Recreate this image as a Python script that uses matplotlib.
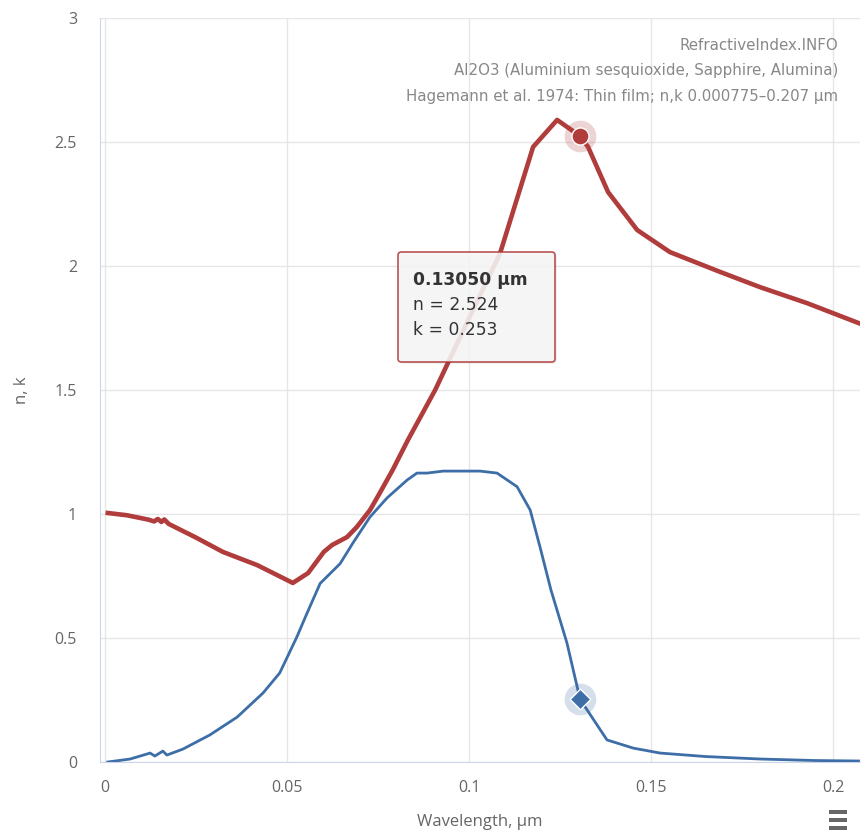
import matplotlib
matplotlib.use("Agg")
import matplotlib.pyplot as plt
from matplotlib.patches import FancyBboxPatch, Rectangle
import numpy as np

# Al2O3 thin film optical constants (Hagemann et al. 1974)
wl_n = [0.00078, 0.006, 0.012, 0.0135, 0.0145, 0.0155, 0.0163, 0.0175, 0.025,
        0.0324, 0.0418, 0.0516, 0.0558, 0.0601, 0.0624, 0.0665, 0.0692, 0.0728,
        0.0755, 0.079, 0.0832, 0.0907, 0.101, 0.1085, 0.1176, 0.1242, 0.1305,
        0.1327, 0.1382, 0.1462, 0.1552, 0.169, 0.1799, 0.1929, 0.207]
n_vals = [1.004, 0.995, 0.977, 0.970, 0.980, 0.968, 0.978, 0.960, 0.905,
          0.847, 0.794, 0.722, 0.762, 0.847, 0.875, 0.907, 0.948, 1.016,
          1.085, 1.177, 1.298, 1.50, 1.82, 2.05, 2.48, 2.589, 2.524,
          2.48, 2.298, 2.145, 2.056, 1.976, 1.915, 1.85, 1.77]

wl_k = [0.00078, 0.0069, 0.0124, 0.0137, 0.0159, 0.017, 0.0214, 0.0288, 0.0363,
        0.0434, 0.048, 0.0527, 0.0555, 0.0591, 0.0646, 0.0681, 0.0728, 0.0775,
        0.083, 0.0857, 0.0885, 0.0929, 0.103, 0.1077, 0.1132, 0.1168, 0.1195,
        0.1225, 0.1269, 0.1305, 0.1379, 0.1451, 0.1525, 0.165, 0.18, 0.195, 0.207]
k_vals = [0.0, 0.012, 0.036, 0.024, 0.044, 0.028, 0.052, 0.109, 0.181,
          0.278, 0.359, 0.504, 0.60, 0.72, 0.80, 0.883, 0.988, 1.065,
          1.137, 1.165, 1.165, 1.173, 1.173, 1.165, 1.11, 1.016, 0.867,
          0.694, 0.48, 0.253, 0.089, 0.056, 0.036, 0.022, 0.012, 0.006, 0.004]

hover_wl = 0.1305
x_ticks = [0, 0.05, 0.1, 0.15, 0.2]
x_tick_labels = ["0", "0.05", "0.1", "0.15", "0.2"]
y_ticks = [0, 0.5, 1, 1.5, 2, 2.5, 3]
y_tick_labels = ["0", "0.5", "1", "1.5", "2", "2.5", "3"]

RED = "#b03c3c"
BLUE = "#3d6ea8"
FONT = ["Open Sans", "DejaVu Sans"]

fig = plt.figure(figsize=(8.61, 8.35), dpi=100)
ax = fig.add_axes([100 / 861, 73 / 835, 760 / 861, 744 / 835])

ax.plot(wl_n, n_vals, color=RED, lw=3.3, solid_joinstyle="round", zorder=3)
ax.plot(wl_k, k_vals, color=BLUE, lw=2.0, solid_joinstyle="round", zorder=3)

# hovered point markers
i_n = wl_n.index(hover_wl)
i_k = wl_k.index(hover_wl)
ax.scatter([wl_n[i_n]], [n_vals[i_n]], s=520, color=RED, alpha=0.22, lw=0, zorder=4)
ax.scatter([wl_n[i_n]], [n_vals[i_n]], s=150, color=RED, edgecolor="white", lw=1, zorder=5)
ax.scatter([wl_k[i_k]], [k_vals[i_k]], s=520, color=BLUE, alpha=0.22, lw=0, zorder=4)
ax.scatter([wl_k[i_k]], [k_vals[i_k]], s=110, marker="D", color=BLUE, edgecolor="white", lw=1, zorder=5)

ax.set_xlim(-0.00137, 0.2074)
ax.set_ylim(0, 3)
ax.set_xticks(x_ticks)
ax.set_xticklabels(x_tick_labels)
ax.set_yticks(y_ticks)
ax.set_yticklabels(y_tick_labels)
ax.grid(True, color="#e6e6e6", lw=1)
ax.set_axisbelow(True)
ax.tick_params(length=0, colors="#666666", labelsize=11.5)
ax.tick_params(axis="y", pad=16.5)
ax.tick_params(axis="x", pad=13)
for lbl in ax.get_xticklabels() + ax.get_yticklabels():
    lbl.set_family(FONT)
for side in ["top", "right"]:
    ax.spines[side].set_visible(False)
ax.spines["left"].set_color("#ccd6eb")
ax.spines["bottom"].set_color("#ccd6eb")

ax.set_xlabel("Wavelength, µm", color="#666666", fontsize=12, family=FONT, va="center")
ax.xaxis.set_label_coords(0.5, -(822 - 762) / 744)
ax.set_ylabel("n, k", color="#666666", fontsize=12, family=FONT, va="center")
ax.yaxis.set_label_coords(-(100 - 22) / 760, 0.5)

# credits block
for i, line in enumerate(["RefractiveIndex.INFO",
                          "Al2O3 (Aluminium sesquioxide, Sapphire, Alumina)",
                          "Hagemann et al. 1974: Thin film; n,k 0.000775–0.207 µm"]):
    fig.text(838 / 861, 1 - (45 + 26 * i) / 835, line, ha="right", va="center",
             color="#888888", fontsize=10.8, family="DejaVu Sans")

# tooltip
x0, y0, w, h = 398 / 861, 1 - 362 / 835, 157 / 861, 110 / 835
shadow = FancyBboxPatch((x0 + 0.002, y0 - 0.002), w, h, boxstyle="round,pad=0,rounding_size=0.004",
                        transform=fig.transFigure, facecolor="#000000", alpha=0.08, lw=0, zorder=9)
box = FancyBboxPatch((x0, y0), w, h, boxstyle="round,pad=0,rounding_size=0.004",
                     transform=fig.transFigure, facecolor="#f7f7f7", alpha=0.88,
                     edgecolor=RED, lw=1.2, zorder=10)
fig.patches.extend([shadow, box])
TIP_FONT = ["DejaVu Sans"]
fig.text(413 / 861, 1 - 280 / 835, f"{hover_wl:.5f} µm", fontsize=12.3, fontweight="bold",
         color="#333333", family=TIP_FONT, va="center", zorder=11)
fig.text(413 / 861, 1 - 305 / 835, f"n = {n_vals[i_n]:.3f}", fontsize=12.3,
         color="#333333", family=TIP_FONT, va="center", zorder=11)
fig.text(413 / 861, 1 - 330 / 835, f"k = {k_vals[i_k]:.3f}", fontsize=12.3,
         color="#333333", family=TIP_FONT, va="center", zorder=11)

# menu icon
for yy in [812, 820, 828]:
    fig.patches.append(Rectangle((829 / 861, 1 - (yy + 2) / 835), 18 / 861, 4 / 835,
                                 transform=fig.transFigure, facecolor="#666666", lw=0))

fig.savefig("out.png", dpi=100)
